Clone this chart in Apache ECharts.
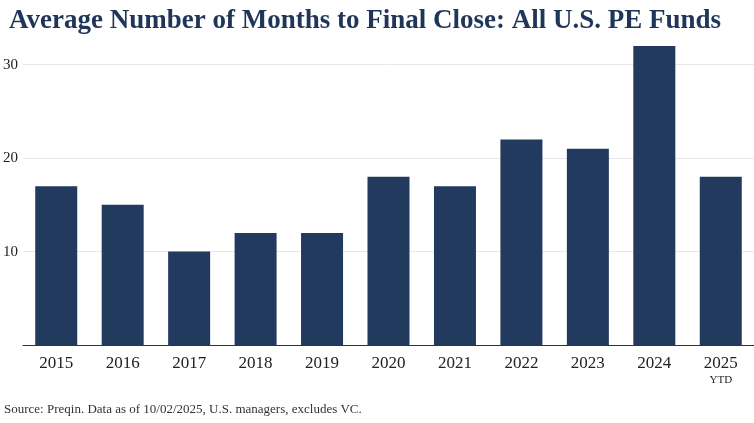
<!DOCTYPE html>
<html><head><meta charset="utf-8">
<script src="https://cdn.jsdelivr.net/npm/echarts@6/dist/echarts.min.js"></script>
<style>html,body{margin:0;padding:0;background:#fff}#c{width:754px;height:423px}</style>
</head><body><div id="c"></div>
<script>
const categories = ['2015','2016','2017','2018','2019','2020','2021','2022','2023','2024','2025'];
const months = [17,15,10,12,12,18,17,22,21,32,18];
const titleText = 'Average Number of Months to Final Close: All U.S. PE Funds';
const sourceText = 'Source: Preqin. Data as of 10/02/2025, U.S. managers, excludes VC.';
const serif = '"Liberation Serif", "DejaVu Serif", serif';
const chart = echarts.init(document.getElementById('c'), null, {renderer:'canvas'});
chart.setOption({
  animation:false,
  title:{text:titleText,left:4,top:3,textStyle:{fontFamily:serif,fontSize:27,fontWeight:'bold',color:'#1f3659'}},
  graphic:[{type:'text',left:4,top:403,style:{text:sourceText,font:'13px "Liberation Serif", serif',fill:'#333'}}],
  grid:{left:23,right:0,top:46,bottom:78,containLabel:false},
  xAxis:{type:'category',data:categories,
    axisLine:{lineStyle:{color:'#333',width:1.2}},axisTick:{show:false},
    axisLabel:{interval:0,margin:10,fontFamily:serif,fontSize:17,color:'#222',
      formatter:v=> v==='2025' ? v+'\n{s|YTD}' : v,
      rich:{s:{fontFamily:serif,fontSize:11,color:'#222',lineHeight:16}}}},
  yAxis:{type:'value',min:0,max:32,interval:10,
    axisLine:{show:false},axisTick:{show:false},
    axisLabel:{margin:5,fontFamily:serif,fontSize:15,color:'#222',showMaxLabel:false,showMinLabel:false},
    splitLine:{showMaxLine:false,lineStyle:{color:'#e8e8e8',width:1}}},
  series:[{type:'bar',data:months,barWidth:42,itemStyle:{color:'#223a5e'}}]
});
</script></body></html>
